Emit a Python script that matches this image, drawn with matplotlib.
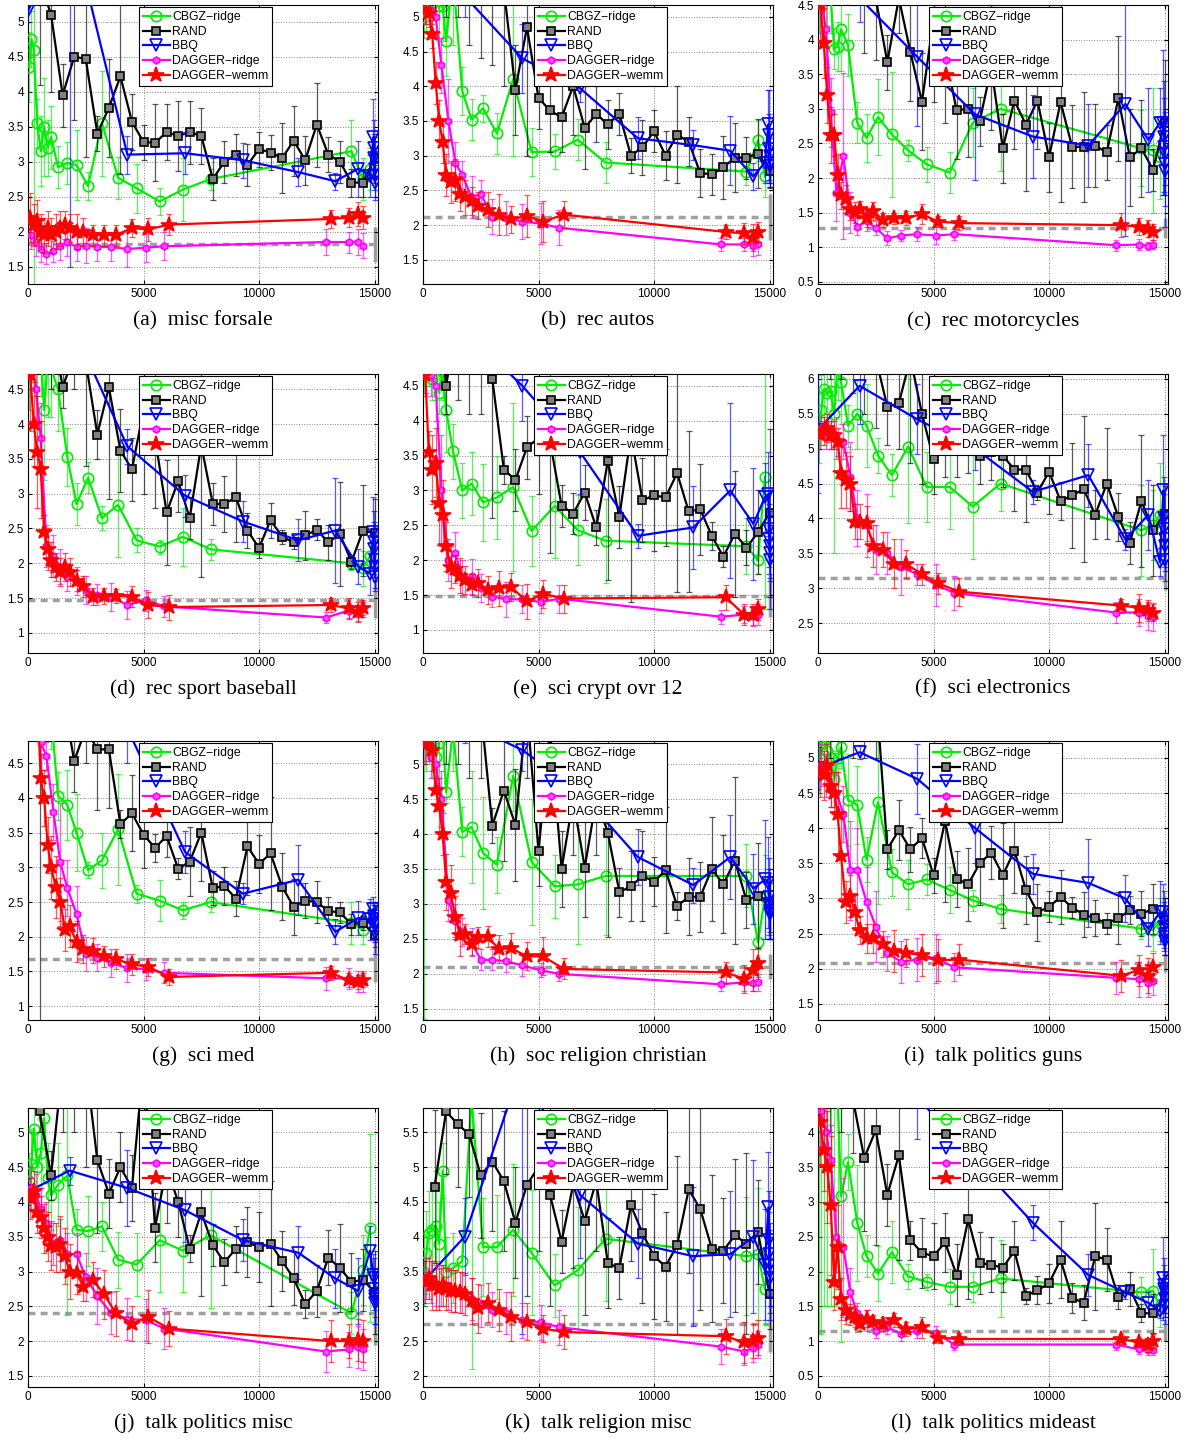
import matplotlib
matplotlib.use('Agg')
import matplotlib.pyplot as plt
from matplotlib.ticker import MultipleLocator, FormatStrFormatter

# number of queries (x) for each method, shared by all panels
cb_x = [50, 150, 250, 400, 550, 700, 850, 1000, 1300, 1700, 2100, 2600, 3200, 3900, 4700, 5700, 6700, 7900, 14000, 14500, 14800]
rand_x = [500, 1000, 1500, 2000, 2500, 3000, 3500, 4000, 4500, 5000, 5500, 6000, 6500, 7000, 7500,
          8000, 8500, 9000, 9500, 10000, 10500, 11000, 11500, 12000, 12500, 13000, 13500, 14000, 14500, 15000]
bbq_x = [0, 1800, 4300, 6800, 9300, 11700, 13300, 14300, 14800, 14950, 14970, 14990, 15000, 15010, 15020]
dr_x = [150, 350, 550, 800, 1100, 1400, 1700, 2100, 2500, 3000, 3600, 4300, 5100, 5900, 12900, 13900, 14300, 14500]
dw_x = [100, 250, 400, 550, 700, 850, 1000, 1200, 1400, 1600, 1800, 2100, 2400, 2800, 3300, 3800, 4500, 5200, 6100,
        13100, 13900, 14300, 14500]

titles = ['(a)  misc forsale', '(b)  rec autos', '(c)  rec motorcycles',
          '(d)  rec sport baseball', '(e)  sci crypt ovr 12', '(f)  sci electronics',
          '(g)  sci med', '(h)  soc religion christian', '(i)  talk politics guns',
          '(j)  talk politics misc', '(k)  talk religion misc', '(l)  talk politics mideast']

# dashed grey reference level and its error bar at 15000
base = [1.82, 2.12, 1.28, 1.47, 1.49, 3.15, 1.68, 2.1, 2.08, 2.4, 2.75, 1.15]
base_e = [0.25, 0.33, 0.15, 0.26, 0.31, 0.18, 0.33, 0.18, 0.13, 0.45, 0.4, 0.15]

# (a) misc forsale
a_cb = [4.35, 4.75, 4.6, 3.55, 3.15, 3.5, 3.2, 3.35, 2.92, 2.98, 2.95, 2.65, 3.55, 2.77, 2.62, 2.43, 2.6, 2.75, 3.15, 2.75, 2.9]
a_cb_e = [0.5, 0.4, 3.4, 0.35, 0.5, 0.7, 0.4, 0.45, 0.3, 0.3, 0.5, 0.2, 0.75, 0.3, 0.35, 0.2, 0.45, 0.15, 0.45, 0.3, 0.3]
a_rand = [5.6, 5.1, 3.95, 4.5, 4.47, 3.4, 3.77, 4.22, 3.57, 3.28, 3.27, 3.42, 3.37, 3.42, 3.37, 2.75, 3.0, 3.1, 2.95, 3.18,
          3.13, 3.05, 3.3, 3.02, 3.53, 3.1, 3.0, 2.7, 2.7, 3.05]
a_rand_e = [1.5, 1.1, 0.45, 0.9, 1.4, 0.25, 0.7, 1.4, 0.4, 0.25, 0.55, 0.4, 0.5, 0.45, 0.4, 0.3, 0.3, 0.3, 0.3, 0.25,
            0.25, 0.5, 0.5, 0.35, 0.6, 0.25, 0.3, 0.2, 0.2, 0.3]
a_bbq = [5.15, 6.5, 3.1, 3.12, 3.02, 2.85, 2.72, 2.9, 2.8, 3.35, 3.2, 3.05, 2.9, 2.8, 2.7]
a_bbq_e = [0.15, 5.0, 0.27, 0.3, 0.25, 0.2, 0.12, 0.4, 0.3, 0.55, 0.4, 0.35, 0.3, 0.3, 0.25]
a_dr = [1.95, 1.85, 1.75, 1.68, 1.72, 1.8, 1.85, 1.78, 1.8, 1.78, 1.78, 1.75, 1.77, 1.79, 1.85, 1.85, 1.85, 1.8]
a_dr_e = [0.2, 0.2, 0.18, 0.15, 0.15, 0.2, 0.2, 0.2, 0.25, 0.2, 0.2, 0.25, 0.2, 0.2, 0.18, 0.15, 0.18, 0.18]
a_dw = [2.2, 2.1, 2.15, 2.0, 1.95, 2.05, 1.95, 2.0, 2.05, 2.1, 2.05, 2.0, 2.0, 1.95, 1.95, 1.95, 2.05, 2.03, 2.1,
        2.18, 2.2, 2.25, 2.2]
a_dw_e = [0.35, 0.3, 0.3, 0.25, 0.25, 0.25, 0.25, 0.25, 0.25, 0.2, 0.2, 0.25, 0.2, 0.15, 0.15, 0.15, 0.13, 0.17, 0.15,
          0.13, 0.13, 0.17, 0.17]

# (b) rec autos
b_cb = [5.0, 5.1, 5.3, 5.2, 5.5, 5.15, 5.15, 4.65, 5.6, 3.93, 3.52, 3.68, 3.32, 4.1, 3.05, 3.06, 3.23, 2.9, 2.77, 3.22, 2.7]
b_cb_e = [0.3, 0.3, 0.3, 0.3, 0.5, 0.5, 0.5, 0.5, 1.0, 0.35, 0.3, 0.2, 0.3, 1.1, 0.35, 0.25, 0.3, 0.3, 0.2, 0.3, 0.3]
b_rand = [6.0, 6.0, 6.0, 5.8, 5.6, 5.5, 5.4, 3.95, 4.85, 3.83, 3.65, 3.55, 4.0, 3.4, 3.6, 3.45, 3.6, 3.0, 3.12, 3.35,
          3.0, 3.3, 3.2, 2.75, 2.73, 2.83, 2.97, 2.97, 3.03, 2.78]
b_rand_e = [1.0, 1.0, 1.0, 1.2, 1.2, 1.2, 1.4, 0.65, 1.85, 0.45, 0.6, 0.5, 0.7, 0.6, 0.4, 0.35, 0.3, 0.25, 0.4, 0.3,
            0.35, 0.7, 0.35, 0.35, 0.3, 0.45, 0.5, 0.3, 0.5, 0.25]
b_bbq = [5.5, 5.3, 4.4, 3.97, 3.25, 3.15, 3.07, 2.7, 2.9, 3.45, 3.3, 3.1, 3.0, 2.9, 2.85]
b_bbq_e = [0.3, 0.3, 0.5, 0.2, 0.3, 0.22, 0.5, 0.2, 0.3, 0.5, 0.65, 0.5, 0.4, 0.35, 0.3]
b_dr = [5.1, 5.1, 5.0, 4.3, 3.5, 2.9, 2.72, 2.4, 2.45, 2.12, 2.1, 2.05, 2.02, 1.96, 1.72, 1.72, 1.7, 1.72]
b_dr_e = [0.2, 0.2, 0.3, 0.4, 0.6, 0.3, 0.2, 0.3, 0.2, 0.25, 0.25, 0.25, 0.3, 0.25, 0.1, 0.1, 0.15, 0.15]
b_dw = [5.1, 5.05, 4.75, 4.05, 3.5, 3.2, 2.72, 2.62, 2.65, 2.45, 2.4, 2.35, 2.28, 2.22, 2.15, 2.08, 2.13, 2.05, 2.15,
        1.9, 1.88, 1.82, 1.9]
b_dw_e = [0.2, 0.2, 0.2, 0.3, 0.3, 0.3, 0.3, 0.3, 0.3, 0.25, 0.25, 0.2, 0.2, 0.25, 0.3, 0.2, 0.3, 0.3, 0.2,
          0.1, 0.15, 0.2, 0.15]

# (c) rec motorcycles
c_cb = [4.6, 4.7, 4.6, 4.7, 4.6, 3.87, 3.9, 4.15, 3.92, 2.8, 2.58, 2.88, 2.63, 2.4, 2.2, 2.08, 2.8, 3.0, 2.43, 2.4, 2.3]
c_cb_e = [0.5, 0.5, 0.5, 0.5, 0.5, 0.3, 0.35, 0.6, 0.45, 0.3, 0.35, 0.55, 0.9, 0.15, 0.25, 0.3, 0.5, 0.9, 0.55, 0.9, 0.6]
c_rand = [6.0, 6.0, 5.5, 4.8, 4.6, 3.67, 4.6, 3.82, 3.1, 4.3, 3.8, 2.98, 3.0, 2.82, 3.6, 2.43, 3.12, 2.77, 3.12, 2.3,
          3.1, 2.45, 2.45, 2.47, 2.37, 3.15, 2.3, 2.43, 2.12, 2.8]
c_rand_e = [1.0, 1.0, 1.0, 1.0, 0.9, 0.4, 0.5, 0.7, 0.7, 1.2, 1.0, 0.7, 0.7, 0.35, 0.9, 0.5, 0.7, 0.95, 0.7, 0.5,
            1.45, 0.6, 0.8, 0.6, 0.4, 0.9, 0.7, 0.7, 0.3, 0.9]
c_bbq = [5.0, 4.6, 3.75, 2.92, 2.6, 2.47, 3.07, 2.55, 2.8, 2.8, 2.6, 2.45, 2.35, 2.2, 2.1]
c_bbq_e = [0.4, 0.35, 1.0, 0.95, 0.6, 0.6, 1.9, 0.75, 0.5, 1.05, 0.8, 0.7, 0.6, 0.6, 0.8]
c_dr = [4.5, 4.15, 2.95, 1.78, 2.32, 1.5, 1.3, 1.38, 1.28, 1.13, 1.17, 1.19, 1.17, 1.19, 1.03, 1.04, 1.02, 1.04]
c_dr_e = [0.5, 0.5, 0.5, 0.4, 1.2, 0.3, 0.12, 0.15, 0.1, 0.1, 0.08, 0.1, 0.12, 0.08, 0.08, 0.08, 0.06, 0.06]
c_dw = [4.5, 3.95, 3.2, 2.62, 2.62, 2.05, 1.75, 1.7, 1.55, 1.5, 1.55, 1.42, 1.52, 1.4, 1.42, 1.42, 1.48, 1.37, 1.35,
        1.32, 1.3, 1.27, 1.22]
c_dw_e = [0.6, 0.5, 0.4, 0.4, 0.3, 0.3, 0.2, 0.2, 0.15, 0.15, 0.12, 0.12, 0.13, 0.1, 0.08, 0.1, 0.15, 0.08, 0.1,
          0.17, 0.12, 0.12, 0.12]

# (d) rec sport baseball
d_cb = [4.8, 5.0, 5.2, 5.0, 5.0, 4.2, 4.9, 4.8, 4.5, 3.53, 2.85, 3.23, 2.65, 2.84, 2.33, 2.24, 2.38, 2.2, 2.0, 1.93, 2.1]
d_cb_e = [0.6, 0.6, 0.6, 0.6, 0.6, 1.0, 0.8, 0.7, 0.6, 0.42, 0.3, 0.22, 0.17, 0.75, 0.17, 0.1, 0.42, 0.15, 0.1, 0.25, 0.2]
d_rand = [6.0, 5.5, 4.53, 5.0, 4.9, 3.85, 4.53, 3.62, 3.35, 4.2, 3.8, 2.73, 3.18, 2.65, 3.7, 2.85, 2.85, 2.95, 2.47, 2.22,
          2.62, 2.38, 2.3, 2.4, 2.48, 2.3, 2.42, 2.02, 2.47, 2.43]
d_rand_e = [1.0, 1.0, 0.3, 0.5, 1.5, 0.35, 1.6, 0.6, 0.45, 1.2, 1.0, 0.75, 0.45, 0.3, 1.9, 0.3, 0.4, 0.65, 0.25, 0.15,
            0.25, 0.1, 0.1, 0.35, 0.15, 0.25, 0.75, 0.1, 0.65, 0.5]
d_bbq = [6.0, 5.5, 3.68, 2.97, 2.6, 2.33, 2.47, 1.95, 1.85, 2.45, 2.3, 2.2, 2.05, 1.95, 1.8]
d_bbq_e = [0.5, 0.5, 0.25, 0.3, 0.3, 0.3, 0.75, 0.25, 0.3, 0.5, 0.45, 0.4, 0.3, 0.3, 0.2]
d_dr = [5.0, 4.5, 3.8, 2.25, 2.1, 1.95, 1.8, 1.75, 1.62, 1.55, 1.52, 1.4, 1.47, 1.38, 1.22, 1.32, 1.27, 1.35]
d_dr_e = [0.5, 0.5, 0.5, 0.3, 0.3, 0.25, 0.2, 0.2, 0.2, 0.15, 0.2, 0.2, 0.15, 0.15, 0.08, 0.1, 0.1, 0.1]
d_dw = [4.7, 4.0, 3.6, 3.35, 2.45, 2.2, 2.05, 1.95, 1.87, 1.95, 1.87, 1.75, 1.67, 1.52, 1.53, 1.53, 1.52, 1.4, 1.37,
        1.4, 1.35, 1.3, 1.35]
d_dw_e = [0.8, 0.6, 0.8, 0.7, 0.25, 0.3, 0.25, 0.2, 0.2, 0.2, 0.2, 0.15, 0.15, 0.12, 0.12, 0.1, 0.15, 0.18, 0.18,
          0.1, 0.15, 0.15, 0.12]

# (e) sci crypt ovr 12
e_cb = [4.7, 4.8, 4.8, 4.6, 4.6, 4.4, 4.7, 4.15, 3.56, 3.0, 3.1, 2.83, 2.9, 3.05, 2.42, 2.78, 2.43, 2.28, 2.2, 2.0, 3.2]
e_cb_e = [0.3, 0.3, 0.3, 0.3, 0.3, 0.3, 0.4, 0.6, 0.4, 0.4, 0.45, 0.55, 0.6, 1.2, 0.5, 0.75, 0.5, 0.6, 0.4, 0.2, 1.9]
e_rand = [6.0, 4.5, 5.5, 5.5, 5.5, 4.6, 3.3, 3.15, 3.62, 3.75, 3.7, 2.78, 2.67, 2.97, 2.47, 3.42, 2.62, 3.8, 2.86, 2.93,
          2.9, 3.25, 2.7, 2.73, 2.35, 2.05, 2.38, 2.18, 2.4, 2.68]
e_rand_e = [1.0, 0.4, 1.2, 1.4, 1.4, 2.0, 0.2, 0.45, 0.45, 0.8, 1.6, 0.3, 0.3, 0.4, 0.25, 1.7, 0.45, 2.4, 0.6, 0.8,
            0.7, 1.7, 1.15, 0.65, 0.2, 0.15, 0.9, 0.25, 0.6, 1.2]
e_bbq = [6.0, 5.3, 4.5, 3.55, 2.35, 2.47, 3.0, 2.52, 2.9, 2.95, 2.45, 2.3, 2.2, 2.1, 2.0]
e_bbq_e = [0.5, 0.5, 0.5, 0.6, 0.17, 0.6, 1.25, 0.8, 0.5, 0.6, 0.55, 0.5, 0.45, 0.4, 0.7]
e_dr = [4.7, 4.65, 4.5, 3.0, 2.0, 2.1, 1.75, 1.77, 1.6, 1.48, 1.44, 1.44, 1.4, 1.45, 1.19, 1.22, 1.2, 1.22]
e_dr_e = [0.3, 0.3, 0.5, 0.8, 0.3, 0.3, 0.25, 0.25, 0.2, 0.15, 0.25, 0.2, 0.15, 0.2, 0.1, 0.12, 0.15, 0.15]
e_dw = [4.65, 3.55, 3.3, 3.4, 2.82, 2.65, 2.2, 1.9, 1.88, 1.78, 1.72, 1.65, 1.68, 1.57, 1.6, 1.62, 1.41, 1.52, 1.45,
        1.47, 1.22, 1.22, 1.3]
e_dw_e = [0.3, 0.3, 0.5, 0.5, 0.6, 0.5, 0.35, 0.3, 0.2, 0.25, 0.2, 0.15, 0.2, 0.2, 0.25, 0.2, 0.25, 0.2, 0.2,
          0.18, 0.15, 0.15, 0.15]

# (f) sci electronics
f_cb = [5.3, 5.55, 5.85, 5.8, 5.82, 5.5, 6.2, 5.95, 5.33, 5.5, 5.33, 4.9, 4.62, 5.03, 4.45, 4.45, 4.17, 4.5, 3.83, 3.9, 4.05]
f_cb_e = [0.5, 0.5, 0.5, 0.6, 0.7, 2.0, 0.5, 0.6, 0.3, 0.5, 0.6, 0.25, 0.3, 1.1, 0.5, 0.6, 0.75, 0.4, 0.65, 0.5, 0.75]
f_rand = [7.0, 7.0, 6.8, 6.5, 6.3, 5.6, 5.65, 6.3, 5.5, 4.85, 5.1, 5.0, 5.0, 4.9, 4.95, 4.9, 4.7, 4.7, 4.37, 4.67,
          4.25, 4.33, 4.42, 4.05, 4.5, 4.02, 3.65, 4.25, 3.83, 4.07]
f_rand_e = [1.0, 1.0, 1.0, 1.0, 1.0, 0.55, 0.65, 1.5, 1.0, 0.5, 0.5, 0.4, 0.35, 0.4, 0.4, 0.45, 0.6, 0.75, 0.1, 0.6,
            0.27, 0.75, 1.05, 0.35, 0.8, 0.35, 0.3, 0.95, 0.65, 0.4]
f_bbq = [5.27, 5.9, 5.42, 5.0, 4.38, 4.62, 3.7, 4.05, 3.37, 4.4, 4.0, 3.85, 3.7, 3.6, 3.4]
f_bbq_e = [0.9, 0.55, 0.5, 0.3, 0.17, 0.45, 0.15, 0.5, 0.2, 0.8, 0.6, 0.5, 0.4, 0.35, 0.3]
f_dr = [5.3, 5.2, 5.2, 5.15, 5.1, 4.6, 4.0, 3.9, 3.55, 3.5, 3.3, 3.2, 3.05, 2.93, 2.65, 2.65, 2.6, 2.58]
f_dr_e = [0.15, 0.2, 0.2, 0.3, 0.25, 0.5, 0.4, 0.45, 0.35, 0.3, 0.4, 0.15, 0.3, 0.25, 0.15, 0.2, 0.2, 0.2]
f_dw = [5.2, 5.25, 5.3, 5.2, 5.2, 5.1, 4.65, 4.55, 4.5, 3.95, 3.95, 3.93, 3.6, 3.55, 3.35, 3.35, 3.2, 3.07, 2.95,
        2.75, 2.72, 2.68, 2.65]
f_dw_e = [0.2, 0.2, 0.2, 0.2, 0.2, 0.2, 0.5, 0.4, 0.4, 0.25, 0.25, 0.25, 0.3, 0.25, 0.35, 0.2, 0.15, 0.15, 0.2,
          0.1, 0.2, 0.15, 0.12]

# (g) sci med
g_cb = [5.5, 5.5, 5.5, 5.5, 5.5, 5.5, 5.5, 5.2, 4.03, 3.9, 3.5, 2.96, 3.1, 3.55, 2.62, 2.52, 2.38, 2.5, 2.2, 2.1, 2.3]
g_cb_e = [0.5, 0.5, 0.5, 0.5, 0.5, 0.5, 0.5, 0.5, 0.35, 0.5, 0.55, 0.12, 0.4, 0.8, 0.13, 0.3, 0.12, 0.15, 0.3, 0.2, 0.2]
g_rand = [6.0, 6.0, 5.5, 4.53, 5.0, 4.7, 4.7, 3.62, 3.78, 3.47, 3.28, 3.45, 2.98, 3.08, 3.5, 2.7, 2.73, 2.55, 3.3, 3.05,
          3.2, 2.72, 2.43, 2.52, 2.5, 2.37, 2.35, 2.18, 2.2, 2.02]
g_rand_e = [5.5, 1.0, 0.5, 0.45, 0.5, 0.87, 0.85, 0.2, 0.55, 0.48, 0.2, 0.3, 0.15, 0.5, 0.7, 0.25, 0.28, 0.25, 0.7, 0.42,
            0.82, 0.48, 0.4, 0.25, 0.3, 0.2, 0.15, 0.15, 0.1, 0.1]
g_bbq = [6.0, 5.5, 5.0, 3.22, 2.62, 2.82, 2.07, 2.27, 2.25, 2.4, 2.3, 2.25, 2.2, 2.15, 2.05]
g_bbq_e = [0.5, 0.5, 0.5, 0.3, 0.15, 0.5, 0.18, 0.25, 0.3, 0.17, 0.2, 0.2, 0.25, 0.3, 0.3]
g_dr = [5.5, 5.5, 4.8, 4.6, 3.8, 3.07, 2.7, 2.33, 1.75, 1.7, 1.62, 1.55, 1.53, 1.48, 1.4, 1.4, 1.35, 1.35]
g_dr_e = [0.4, 0.4, 0.4, 0.2, 0.4, 0.85, 0.4, 0.4, 0.25, 0.2, 0.2, 0.2, 0.15, 0.15, 0.17, 0.15, 0.15, 0.15]
g_dw = [5.5, 5.5, 5.5, 4.28, 4.0, 3.32, 3.0, 2.72, 2.5, 2.1, 2.15, 1.93, 1.82, 1.8, 1.72, 1.68, 1.6, 1.57, 1.42,
        1.48, 1.37, 1.35, 1.37]
g_dw_e = [0.4, 0.4, 0.4, 0.35, 0.4, 0.4, 0.45, 0.45, 0.35, 0.3, 0.3, 0.3, 0.2, 0.18, 0.15, 0.15, 0.15, 0.13, 0.12,
          0.1, 0.1, 0.1, 0.1]

# (h) soc religion christian
h_cb = [5.35, 5.3, 5.4, 5.2, 5.1, 5.3, 5.5, 4.6, 5.5, 4.03, 4.1, 3.73, 3.56, 4.83, 3.6, 3.25, 3.28, 3.4, 3.4, 2.45, 3.1]
h_cb_e = [4.0, 0.4, 0.4, 0.4, 0.5, 0.5, 0.5, 0.15, 0.6, 0.35, 0.8, 0.8, 0.4, 0.5, 0.9, 0.45, 0.85, 0.85, 0.45, 0.6, 0.6]
h_rand = [6.2, 6.0, 6.0, 5.8, 5.8, 4.12, 4.62, 4.13, 5.8, 3.75, 5.5, 3.5, 4.5, 3.52, 4.5, 4.02, 3.17, 3.25, 3.4, 3.32,
          3.48, 2.97, 3.1, 3.1, 3.5, 3.28, 3.62, 3.05, 3.12, 3.0]
h_rand_e = [1.0, 1.0, 1.0, 1.0, 1.0, 0.25, 1.0, 0.8, 1.0, 0.5, 1.0, 0.55, 0.8, 0.7, 0.8, 1.5, 0.35, 0.5, 0.65, 0.35,
            0.9, 0.2, 0.55, 0.5, 0.75, 0.7, 1.2, 0.4, 0.75, 0.4]
h_bbq = [5.3, 5.6, 5.2, 4.6, 3.67, 3.27, 3.67, 3.22, 3.35, 3.3, 3.1, 3.0, 2.95, 2.9, 2.85]
h_bbq_e = [0.3, 0.3, 0.3, 0.4, 0.4, 0.25, 0.6, 0.5, 0.85, 0.65, 0.55, 0.5, 0.45, 0.4, 0.35]
h_dr = [5.35, 5.1, 5.0, 4.5, 3.05, 2.75, 2.6, 2.45, 2.2, 2.2, 2.18, 2.12, 2.05, 2.0, 1.85, 1.88, 1.87, 1.88]
h_dr_e = [0.3, 0.3, 0.3, 0.4, 0.3, 0.25, 0.2, 0.2, 0.15, 0.15, 0.15, 0.15, 0.1, 0.1, 0.1, 0.12, 0.12, 0.12]
h_dw = [5.3, 5.35, 5.2, 4.63, 4.4, 4.0, 3.32, 3.15, 2.82, 2.55, 2.57, 2.42, 2.52, 2.53, 2.35, 2.37, 2.25, 2.25, 2.07,
        2.02, 1.93, 2.05, 2.15]
h_dw_e = [0.3, 0.3, 0.3, 0.3, 0.4, 0.3, 0.4, 0.4, 0.3, 0.3, 0.15, 0.15, 0.15, 0.15, 0.2, 0.22, 0.2, 0.27, 0.15,
          0.15, 0.2, 0.3, 0.2]

# (i) talk politics guns
i_cb = [5.0, 5.2, 5.25, 5.1, 5.0, 4.7, 5.0, 5.15, 4.4, 4.33, 3.55, 4.37, 3.37, 3.2, 3.27, 3.12, 2.97, 2.85, 2.57, 2.55, 2.7]
i_cb_e = [0.5, 0.3, 0.3, 0.3, 0.3, 0.4, 0.5, 0.3, 0.65, 0.55, 0.32, 1.45, 0.33, 0.35, 0.22, 0.33, 0.15, 0.2, 0.15, 0.3, 0.3]
i_rand = [6.0, 6.0, 6.0, 6.0, 6.0, 3.7, 3.97, 3.7, 3.86, 3.33, 4.1, 3.28, 3.2, 3.5, 3.65, 3.33, 3.68, 3.12, 2.8, 2.88,
          3.02, 2.87, 2.77, 2.72, 2.64, 2.72, 2.83, 2.78, 2.85, 2.7]
i_rand_e = [1.0, 1.0, 1.0, 1.0, 1.0, 0.28, 0.43, 0.32, 0.28, 0.25, 1.15, 0.4, 0.52, 0.6, 0.38, 0.75, 0.6, 0.48, 0.4, 0.22,
            0.38, 0.15, 0.32, 0.26, 0.15, 0.37, 0.2, 0.32, 0.35, 0.3]
i_bbq = [4.85, 5.08, 4.7, 4.0, 3.35, 3.22, 3.0, 2.57, 2.8, 2.8, 2.7, 2.6, 2.5, 2.45, 2.4]
i_bbq_e = [0.3, 0.1, 0.5, 0.5, 0.28, 0.63, 0.33, 0.25, 0.45, 0.4, 0.4, 0.35, 0.3, 0.25, 0.2]
i_dr = [4.9, 4.75, 4.6, 4.5, 4.2, 3.4, 3.4, 2.95, 2.6, 2.22, 2.1, 2.13, 2.15, 2.02, 1.87, 1.85, 1.8, 1.83]
i_dr_e = [0.3, 0.3, 0.3, 0.3, 0.4, 0.7, 0.6, 0.5, 0.5, 0.25, 0.3, 0.3, 0.35, 0.2, 0.23, 0.25, 0.2, 0.2]
i_dw = [4.8, 4.75, 4.9, 4.6, 4.5, 4.2, 3.6, 2.95, 3.03, 2.8, 2.55, 2.43, 2.43, 2.35, 2.25, 2.22, 2.2, 2.12, 2.13,
        1.9, 1.98, 1.9, 2.03]
i_dw_e = [0.35, 0.35, 0.3, 0.3, 0.3, 0.6, 0.6, 0.3, 0.3, 0.25, 0.2, 0.2, 0.2, 0.18, 0.3, 0.2, 0.3, 0.3, 0.22,
          0.23, 0.22, 0.25, 0.2]

# (j) talk politics misc
j_cb = [4.3, 4.55, 5.05, 4.5, 4.7, 5.2, 4.35, 4.1, 4.25, 4.38, 3.6, 3.58, 3.65, 3.17, 3.1, 3.45, 3.3, 3.52, 2.4, 3.02, 3.62]
j_cb_e = [0.4, 0.5, 0.3, 0.5, 0.5, 0.4, 0.5, 0.5, 0.6, 2.0, 0.3, 0.5, 0.35, 0.4, 0.45, 0.75, 0.6, 1.05, 0.3, 0.5, 1.35]
j_rand = [5.3, 4.38, 6.0, 6.0, 6.0, 4.6, 4.12, 4.5, 4.2, 6.0, 3.63, 4.5, 4.0, 3.33, 3.85, 3.38, 3.13, 3.33, 3.42, 3.35,
          3.4, 3.15, 2.9, 2.53, 2.72, 3.2, 3.05, 2.85, 2.88, 2.7]
j_rand_e = [0.3, 0.35, 1.0, 1.0, 1.5, 1.05, 0.5, 0.5, 0.47, 1.0, 0.5, 0.8, 0.5, 0.2, 1.2, 0.3, 0.33, 0.33, 0.5, 0.5,
            0.9, 0.43, 0.38, 0.2, 0.38, 0.4, 0.63, 0.42, 0.45, 0.6]
j_bbq = [4.15, 4.45, 4.2, 3.88, 3.45, 3.27, 2.9, 2.72, 3.3, 2.95, 2.9, 2.75, 2.65, 2.6, 2.55]
j_bbq_e = [0.2, 0.2, 0.55, 0.45, 0.3, 0.38, 0.42, 0.48, 0.35, 0.3, 0.3, 0.3, 0.3, 0.35, 0.3]
j_dr = [4.2, 4.1, 3.9, 3.7, 3.4, 3.45, 3.25, 3.25, 2.92, 2.65, 2.4, 2.32, 2.3, 2.18, 1.85, 1.88, 1.92, 1.88]
j_dr_e = [0.3, 0.3, 0.3, 0.3, 0.3, 0.3, 0.3, 0.3, 0.35, 0.4, 0.3, 0.3, 0.3, 0.3, 0.3, 0.25, 0.3, 0.3]
j_dw = [4.05, 4.15, 3.85, 3.78, 3.62, 3.5, 3.37, 3.35, 3.4, 3.22, 3.0, 2.98, 2.78, 2.88, 2.67, 2.4, 2.25, 2.35, 2.18,
        2.0, 2.0, 2.02, 2.0]
j_dw_e = [0.3, 0.3, 0.3, 0.3, 0.35, 0.35, 0.35, 0.35, 0.4, 0.4, 0.4, 0.3, 0.2, 0.25, 0.35, 0.32, 0.25, 0.38, 0.25,
          0.3, 0.25, 0.3, 0.3]

# (k) talk religion misc
k_cb = [3.5, 3.77, 4.05, 4.1, 4.15, 3.9, 4.95, 3.5, 3.55, 3.65, 6.0, 3.85, 3.85, 4.1, 3.77, 3.3, 3.52, 3.97, 3.72, 3.75, 3.25]
k_cb_e = [0.5, 0.6, 0.6, 0.6, 0.8, 0.6, 0.4, 0.5, 0.5, 0.45, 3.9, 0.7, 0.75, 0.95, 0.9, 0.45, 0.9, 0.9, 0.85, 0.95, 0.5]
k_rand = [4.72, 5.8, 5.62, 5.47, 4.88, 5.08, 4.8, 4.2, 4.75, 5.0, 4.6, 3.93, 4.75, 4.23, 4.8, 3.62, 3.55, 4.45, 4.05, 3.72,
          3.57, 3.88, 4.68, 4.4, 3.83, 3.8, 4.02, 3.9, 4.07, 3.17]
k_rand_e = [1.1, 0.9, 0.9, 0.9, 0.9, 1.0, 1.0, 0.8, 1.6, 1.2, 1.6, 0.45, 1.2, 1.35, 1.0, 0.65, 0.45, 0.8, 1.0, 0.9,
            0.78, 1.28, 1.2, 1.45, 1.05, 0.75, 1.1, 1.3, 0.75, 0.5]
k_bbq = [3.35, 4.0, 6.5, 4.6, 3.9, 3.72, 3.75, 4.0, 3.6, 4.42, 3.95, 3.75, 3.6, 3.5, 3.4]
k_bbq_e = [0.3, 0.55, 3.9, 0.9, 0.5, 1.0, 0.9, 1.1, 0.8, 0.8, 0.7, 0.6, 0.6, 0.6, 0.6]
k_dr = [3.4, 3.35, 3.3, 3.3, 3.25, 3.22, 3.2, 3.1, 3.0, 2.95, 2.9, 2.8, 2.77, 2.7, 2.42, 2.35, 2.4, 2.45]
k_dr_e = [0.3, 0.3, 0.3, 0.3, 0.3, 0.3, 0.3, 0.3, 0.3, 0.25, 0.3, 0.25, 0.25, 0.25, 0.25, 0.2, 0.2, 0.2]
k_dw = [3.35, 3.4, 3.3, 3.3, 3.25, 3.3, 3.25, 3.22, 3.22, 3.2, 3.18, 3.07, 2.97, 3.05, 2.95, 2.85, 2.78, 2.68, 2.63,
        2.57, 2.48, 2.5, 2.55]
k_dw_e = [0.3, 0.3, 0.35, 0.35, 0.3, 0.3, 0.3, 0.3, 0.3, 0.3, 0.3, 0.33, 0.35, 0.28, 0.3, 0.35, 0.27, 0.2, 0.25,
          0.25, 0.3, 0.25, 0.25]

# (l) talk politics mideast
l_cb = [4.5, 4.5, 4.5, 4.5, 4.5, 4.5, 4.5, 3.08, 3.57, 2.7, 2.22, 1.97, 2.28, 1.93, 1.85, 1.78, 1.78, 1.9, 1.7, 1.72, 1.5]
l_cb_e = [3.4, 3.4, 3.0, 3.0, 3.0, 3.0, 2.5, 2.1, 0.4, 0.83, 0.3, 0.4, 0.45, 0.18, 0.12, 0.25, 0.22, 0.55, 0.22, 0.6, 0.3]
l_rand = [5.0, 5.0, 4.5, 3.63, 4.03, 3.1, 3.67, 2.45, 2.27, 2.22, 2.42, 1.95, 2.75, 2.12, 2.1, 2.05, 2.3, 1.65, 1.73, 1.83,
          2.17, 1.62, 1.55, 2.22, 2.17, 1.63, 1.75, 1.4, 1.4, 1.65]
l_rand_e = [1.0, 1.0, 0.8, 1.05, 1.65, 0.45, 1.5, 0.28, 0.5, 0.47, 0.42, 0.45, 1.15, 0.45, 0.4, 0.35, 0.42, 0.12, 0.2, 0.28,
            0.55, 0.22, 0.25, 0.77, 0.45, 0.17, 0.25, 0.13, 0.28, 0.3]
l_bbq = [5.5, 5.5, 4.5, 3.6, 2.7, 1.95, 1.7, 1.55, 1.43, 1.9, 1.8, 1.75, 1.7, 1.6, 1.5]
l_bbq_e = [0.5, 0.5, 0.6, 0.3, 0.25, 0.3, 0.1, 0.15, 0.1, 0.6, 0.4, 0.35, 0.3, 0.25, 0.25]
l_dr = [4.3, 4.0, 3.6, 2.5, 2.35, 1.7, 1.4, 1.3, 1.15, 1.2, 1.1, 1.15, 1.12, 0.95, 0.95, 0.88, 0.87, 0.87]
l_dr_e = [0.5, 0.5, 0.5, 0.5, 1.0, 0.35, 0.15, 0.15, 0.1, 0.1, 0.1, 0.1, 0.1, 0.08, 0.08, 0.07, 0.07, 0.07]
l_dw = [4.15, 3.75, 3.5, 2.95, 1.85, 2.35, 1.6, 1.45, 1.38, 1.35, 1.25, 1.32, 1.28, 1.25, 1.3, 1.17, 1.2, 1.05, 1.03,
        1.03, 0.98, 0.95, 1.0]
l_dw_e = [0.6, 0.6, 0.8, 1.0, 0.4, 0.6, 0.3, 0.2, 0.15, 0.15, 0.1, 0.12, 0.1, 0.1, 0.1, 0.1, 0.15, 0.08, 0.08,
          0.07, 0.07, 0.1, 0.1]

panels = [
    (a_cb, a_cb_e, a_rand, a_rand_e, a_bbq, a_bbq_e, a_dr, a_dr_e, a_dw, a_dw_e),
    (b_cb, b_cb_e, b_rand, b_rand_e, b_bbq, b_bbq_e, b_dr, b_dr_e, b_dw, b_dw_e),
    (c_cb, c_cb_e, c_rand, c_rand_e, c_bbq, c_bbq_e, c_dr, c_dr_e, c_dw, c_dw_e),
    (d_cb, d_cb_e, d_rand, d_rand_e, d_bbq, d_bbq_e, d_dr, d_dr_e, d_dw, d_dw_e),
    (e_cb, e_cb_e, e_rand, e_rand_e, e_bbq, e_bbq_e, e_dr, e_dr_e, e_dw, e_dw_e),
    (f_cb, f_cb_e, f_rand, f_rand_e, f_bbq, f_bbq_e, f_dr, f_dr_e, f_dw, f_dw_e),
    (g_cb, g_cb_e, g_rand, g_rand_e, g_bbq, g_bbq_e, g_dr, g_dr_e, g_dw, g_dw_e),
    (h_cb, h_cb_e, h_rand, h_rand_e, h_bbq, h_bbq_e, h_dr, h_dr_e, h_dw, h_dw_e),
    (i_cb, i_cb_e, i_rand, i_rand_e, i_bbq, i_bbq_e, i_dr, i_dr_e, i_dw, i_dw_e),
    (j_cb, j_cb_e, j_rand, j_rand_e, j_bbq, j_bbq_e, j_dr, j_dr_e, j_dw, j_dw_e),
    (k_cb, k_cb_e, k_rand, k_rand_e, k_bbq, k_bbq_e, k_dr, k_dr_e, k_dw, k_dw_e),
    (l_cb, l_cb_e, l_rand, l_rand_e, l_bbq, l_bbq_e, l_dr, l_dr_e, l_dw, l_dw_e),
]

# axis ranges per panel
ylims = [(1.25, 5.24), (1.15, 5.17), (0.47, 4.5), (0.71, 4.72), (0.67, 4.67), (2.07, 6.07),
         (0.8, 4.82), (1.34, 5.33), (1.27, 5.24), (1.34, 5.35), (1.84, 5.85), (0.34, 4.35)]

plt.rcParams['font.family'] = ['Liberation Sans', 'DejaVu Sans']

fig = plt.figure(figsize=(11.93, 14.39), dpi=100)
W, H = 1193.0, 1439.0
col_left = [28, 423, 818]
row_top = [5, 374, 741, 1108]
ax_w, ax_h = 350, 279
cap_y = [321, 689, 1056, 1423]

# label, color, marker, marker face, marker size
styles = [
    ('CBGZ\u2212ridge', '#00ee00', 'o', 'none', 7.5),
    ('RAND', 'black', 's', '#808080', 5.5),
    ('BBQ', '#0000ff', 'v', 'none', 8),
    ('DAGGER\u2212ridge', '#ff00ff', 'h', '#ff55ff', 5),
    ('DAGGER\u2212wemm', '#ff0000', '*', '#ff0000', 11.5),
]
xs = [cb_x, rand_x, bbq_x, dr_x, dw_x]

for idx, data in enumerate(panels):
    r, c = divmod(idx, 3)
    left = col_left[c] / W
    bottom = 1 - (row_top[r] + ax_h) / H
    ax = fig.add_axes([left, bottom, ax_w / W, ax_h / H])

    # reference level
    ax.axhline(base[idx], color='#a0a0a0', lw=2.5, ls=(0, (2, 1.5)), zorder=1)
    ax.errorbar([15000], [base[idx]], yerr=[base_e[idx]], fmt='none', ecolor='#a0a0a0',
                elinewidth=2.5, capsize=0, zorder=1)

    handles = []
    for s, (label, col, mk, mfc, ms) in enumerate(styles):
        y = data[2 * s]
        err = data[2 * s + 1]
        x = xs[s]
        ax.errorbar(x, y, yerr=err, fmt='none', ecolor=col, elinewidth=0.9, capsize=2.5,
                    capthick=0.9, alpha=0.65, zorder=2 + s)
        h, = ax.plot(x, y, color=col, lw=1.6, marker=mk, ms=ms, mfc=mfc, mec=col, mew=1.2,
                     label=label, zorder=3 + s)
        handles.append(h)

    ax.set_xlim(0, 15150)
    ax.set_ylim(*ylims[idx])
    ax.set_xticks([0, 5000, 10000, 15000])
    ax.yaxis.set_major_locator(MultipleLocator(0.5))
    ax.yaxis.set_major_formatter(FormatStrFormatter('%g'))
    ax.tick_params(direction='in', labelsize=8.5, length=3, top=True, right=True, pad=3)
    ax.grid(True, ls=':', color='#888888', lw=0.7)
    for sp in ax.spines.values():
        sp.set_linewidth(0.8)

    leg = ax.legend(handles=handles, loc='upper left', bbox_to_anchor=(0.31, 1.0), fontsize=8.8,
                    frameon=True, fancybox=False, edgecolor='black', framealpha=1,
                    handlelength=2.2, handletextpad=0.2, borderpad=0.3, labelspacing=0.22,
                    borderaxespad=0.2)
    leg.get_frame().set_linewidth(0.8)

    fig.text((col_left[c] + ax_w / 2) / W, 1 - cap_y[idx // 3] / H, titles[idx],
             ha='center', va='center', fontsize=15.5, family=['Liberation Serif', 'DejaVu Serif'])

fig.savefig('out.png', dpi=100)
